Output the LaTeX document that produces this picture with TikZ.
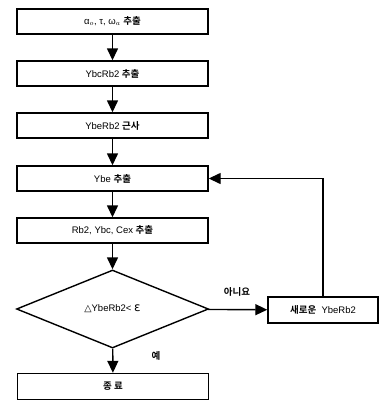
\documentclass[tikz,border=0pt]{standalone}
\usepackage{fontspec}
\setmainfont{Liberation Sans}
\newfontfamily\krfont{Noto Sans CJK KR Bold}
\newfontfamily\djfont{DejaVu Sans}
\usetikzlibrary{arrows.meta,shapes.geometric}
\begin{document}
\begin{tikzpicture}[x=1pt,y=-1pt,
  box/.style={draw,line width=1.4pt,minimum width=191pt,minimum height=25pt,inner sep=0pt,font=\fontsize{9.5}{11}\selectfont},
  arr/.style={line width=1.4pt,-{Triangle[length=12pt,width=11pt]}},
  lab/.style={font=\krfont\fontsize{9.5}{11}\selectfont}]
\useasboundingbox (0,0) rectangle (382,400);
\node[box] (b1) at (112.5,21.5) {α$_{o}$, τ, ω$_{a}$ {\krfont 추출}};
\node[box] (b2) at (112.5,73.5) {YbcRb2 {\krfont 추출}};
\node[box] (b3) at (112.5,125.5) {YbeRb2 {\krfont 근사}};
\node[box] (b4) at (112.5,178.5) {Ybe {\krfont 추출}};
\node[box] (b5) at (112.5,230.5) {Rb2, Ybc, Cex {\krfont 추출}};
\node[draw,line width=1.4pt,diamond,aspect=2.46,minimum width=192pt,minimum height=78pt,inner sep=0pt,font=\fontsize{9.5}{11}\selectfont] (d) at (112.5,309) {{\djfont △}YbeRb2< {\djfont\large ε}};
\node[box,minimum width=110pt,minimum height=26pt] (n) at (323,310) {{\krfont 새로운}\ \ YbeRb2};
\node[box,minimum height=26pt] (e) at (113,386.5) {{\krfont 종 료}};
\draw[arr] (b1) -- (b2);
\draw[arr] (b2) -- (b3);
\draw[arr] (b3) -- (b4);
\draw[arr] (b4) -- (b5);
\draw[arr] (b5) -- (d);
\draw[arr] (d) -- (e);
\draw[arr] (d) -- (n);
\draw[arr] (n.north) |- (b4.east);
\node[lab] (no) at (237,292) {아니요};
\node[lab] (yes) at (156,356) {예};
\end{tikzpicture}
\end{document}
